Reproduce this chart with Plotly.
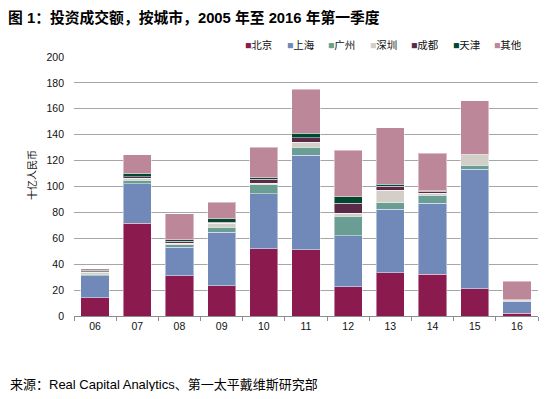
import plotly.graph_objects as go

categories = ["06", "07", "08", "09", "10", "11", "12", "13", "14", "15", "16"]

beijing   = [14.1, 71.6, 31.1, 23.4, 52.0, 51.0, 22.7, 33.5, 32.2, 21.1, 2.1]
shanghai  = [17.0, 30.6, 21.9, 41.2, 42.5, 73.3, 39.3, 48.9, 54.8, 92.2, 9.3]
guangzhou = [1.0, 2.8, 2.1, 3.9, 6.7, 6.2, 15.2, 5.1, 6.2, 3.3, 0.3]
shenzhen  = [1.5, 1.2, 1.0, 3.1, 1.5, 3.6, 2.1, 9.8, 1.6, 8.0, 0.8]
chengdu   = [0.6, 1.3, 1.5, 0.8, 2.8, 3.4, 7.7, 2.8, 1.5, 0.2, 0.1]
tianjin   = [0.6, 2.3, 1.3, 2.8, 1.3, 3.8, 4.9, 1.8, 0.4, 0.1, 0.0]
others    = [1.5, 14.8, 19.9, 12.8, 23.4, 33.8, 36.1, 43.5, 28.9, 41.4, 14.4]

series_names = ["北京", "上海", "广州", "深圳", "成都", "天津", "其他"]
series_values = [beijing, shanghai, guangzhou, shenzhen, chengdu, tianjin, others]
series_colors = ["#8B1A4F", "#7089B8", "#6A9E94", "#D3CEC7", "#5C2A49", "#00482F", "#BC8798"]

y_ticks = [0, 20, 40, 60, 80, 100, 120, 140, 160, 180, 200]

FONT = "Liberation Sans, Arial, Noto Sans CJK SC, sans-serif"

# page has an 8px body margin; figure is sized/positioned to compensate
OFF = 8
W, H = 552 - 2 * OFF, 399 - 2 * OFF
L, T = 74 - OFF, 57 - OFF
R = W - (538 - OFF)
B = H - (316 - OFF)
pw, ph = W - L - R, H - T - B

def px_x(x):
    return (x - OFF - L) / pw

def px_y(y):
    return (H - B - (y - OFF)) / ph

fig = go.Figure()
for name, vals, col in zip(series_names, series_values, series_colors):
    fig.add_trace(go.Bar(
        x=categories, y=vals, name=name,
        marker=dict(color=col, line=dict(color="rgba(255,255,255,0.45)", width=1)),
        showlegend=False,
    ))

annotations = []
# custom legend
leg_x = [243, 284.5, 326, 367.5, 409, 450.5, 492]
for name, col, lx in zip(series_names, series_colors, leg_x):
    annotations.append(dict(
        text=f"<span style='color:{col}'>■</span>{name}",
        x=px_x(lx), y=px_y(45), xref="paper", yref="paper",
        xanchor="left", yanchor="middle", showarrow=False,
        font=dict(family=FONT, size=10.5, color="#111111"),
    ))
# y-axis title
annotations.append(dict(
    text="十亿人民币", textangle=-90,
    x=px_x(32), y=px_y(175), xref="paper", yref="paper",
    xanchor="center", yanchor="middle", showarrow=False,
    font=dict(family=FONT, size=10, color="#111111"),
))
# source
annotations.append(dict(
    text="来源：Real Capital Analytics、第一太平戴维斯研究部",
    x=px_x(8), y=px_y(384), xref="paper", yref="paper",
    xanchor="left", yanchor="middle", showarrow=False,
    font=dict(family=FONT, size=13, color="#000000"),
))

fig.update_layout(
    width=W, height=H,
    margin=dict(l=L, r=R, t=T, b=B, autoexpand=False),
    paper_bgcolor="white", plot_bgcolor="white",
    barmode="stack", bargap=0.33,
    title=dict(
        text="<b>图 1：投资成交额，按城市，2005 年至 2016 年第一季度</b>",
        x=(8 - OFF) / W, y=1 - (17.5 - OFF) / H, xref="container", yref="container",
        xanchor="left", yanchor="middle", pad=dict(l=0, r=0, t=0, b=0),
        font=dict(family=FONT, size=14.8, color="#000000"),
    ),
    font=dict(family=FONT, size=10.5, color="#111111"),
    showlegend=False,
    annotations=annotations,
    xaxis=dict(
        type="category", showgrid=False, showline=True, linecolor="#8C8C8C", linewidth=1,
        ticks="outside", tickson="boundaries", ticklen=4, tickcolor="#8C8C8C",
        tickfont=dict(family=FONT, size=10.5, color="#111111"),
    ),
    yaxis=dict(
        range=[0, 200], tickvals=y_ticks, showgrid=True, gridcolor="#A6A6A6", gridwidth=1,
        zeroline=False, showline=False, ticks="", ticklabelstandoff=9,
        tickfont=dict(family=FONT, size=10.5, color="#111111"),
    ),
)

fig.write_html("out.html")
